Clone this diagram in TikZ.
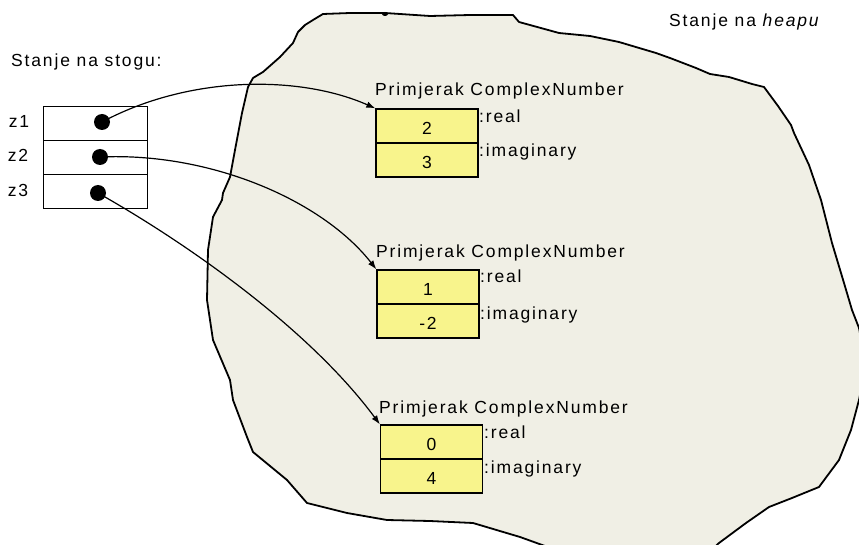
\documentclass[tikz,border=0pt]{standalone}
\usepackage{fontspec}
\setmainfont{Liberation Sans}[LetterSpace=10.5]
\usetikzlibrary{arrows.meta}
\definecolor{heapfill}{RGB}{240,239,229}
\definecolor{cellyellow}{RGB}{248,244,140}
\tikzset{
  txt/.style={inner sep=0pt, font=\fontsize{17.5}{20}\selectfont},
  stackcell/.style={draw=black, line width=0.9pt, minimum width=104pt, minimum height=34pt, inner sep=0pt},
  heapcell/.style={draw=black, line width=1.3pt, fill=cellyellow, minimum width=102pt, minimum height=34pt, inner sep=0pt, text height=17pt, text depth=0pt, font=\fontsize{17.5}{20}\selectfont},
  refdot/.style={circle, fill=black, minimum size=16pt, inner sep=0pt},
  ref/.style={line width=1.2pt, -{Latex[length=9pt,width=6.5pt]}},
  blob/.style={draw=black, line width=1.8pt, fill=heapfill, line join=round}
}
\begin{document}
\begin{tikzpicture}[x=1pt,y=-1pt]
\useasboundingbox (0,0) rectangle (859,545);
\begin{scope}
\clip (0,0) rectangle (859,545);
% heap blob
\draw[blob] (323,14) -- (350,13) -- (385,13) -- (430,16) -- (470,15) -- (513,15) -- (519,22)
  -- (559,33) -- (590,36) -- (619,42) -- (656,53) -- (670,58) -- (696,68) -- (710,74) -- (729,77)
  -- (752,84) -- (764,87) -- (778,106) -- (791,125) -- (794,133) -- (809,165) -- (821,200)
  -- (832,243) -- (844,283) -- (852,310) -- (859,328) -- (866,365) -- (859,400) -- (851,430)
  -- (839,460) -- (819,487) -- (792,498) -- (769,507) -- (746,523) -- (719,543) -- (705,556)
  -- (585,556) -- (545,546) -- (520,537) -- (473,523) -- (430,521) -- (387,520) -- (347,513)
  -- (307,503) -- (287,480) -- (253,452) -- (247,437) -- (233,400) -- (230,380) -- (213,340)
  -- (207,300) -- (208,250) -- (213,217) -- (222,200) -- (223,193) -- (230,177) -- (235,150)
  -- (242,113) -- (248,87) -- (253,78) -- (263,72) -- (280,57) -- (293,43) -- (298,32)
  -- (305,25) -- (313,20) -- cycle;
\end{scope}
\fill (385,14) ellipse (3 and 2);

% captions
\node[txt, anchor=base west] (stackcap) at (11,67) {Stanje na stogu:};
\node[txt, anchor=base west] (heapcap) at (669,27) {Stanje na \textit{heapu}};

% stack
\node[stackcell] (s1) at (95,123) {};
\node[stackcell] (s2) at (95,157) {};
\node[stackcell] (s3) at (95,191) {};
\node[txt, anchor=base] (z1) at (19,128) {z1};
\node[txt, anchor=base] (z2) at (18,162) {z2};
\node[txt, anchor=base] (z3) at (18,197) {z3};
\node[refdot] (d1) at (102,122) {};
\node[refdot] (d2) at (100,157) {};
\node[refdot] (d3) at (98,193) {};

% heap objects
\node[txt, anchor=base west] (t1) at (375,96) {Primjerak ComplexNumber};
\node[heapcell] (r1) at (427,126) {2};
\node[heapcell] (i1) at (427,160) {3};
\node[txt, anchor=base west] (rl1) at (479,123) {:real};
\node[txt, anchor=base west] (il1) at (479,157) {:imaginary};

\node[txt, anchor=base west] (t2) at (376,258) {Primjerak ComplexNumber};
\node[heapcell] (r2) at (428,287) {1};
\node[heapcell] (i2) at (428,321) {-2};
\node[txt, anchor=base west] (rl2) at (480,283) {:real};
\node[txt, anchor=base west] (il2) at (480,319) {:imaginary};

\node[txt, anchor=base west] (t3) at (379,413) {Primjerak ComplexNumber};
\node[heapcell] (r3) at (431.5,442) {0};
\node[heapcell] (i3) at (431.5,476) {4};
\node[txt, anchor=base west] (rl3) at (484,438) {:real};
\node[txt, anchor=base west] (il3) at (484,473) {:imaginary};

% references
\draw[ref] (d1.center) .. controls (190,75) and (300,75) .. (r1.north west);
\draw[ref] (d2.center) .. controls (210,152) and (322,200) .. (r2.north west);
\draw[ref] (d3.center) .. controls (190,245) and (310,330) .. (r3.north west);
\end{tikzpicture}
\end{document}
